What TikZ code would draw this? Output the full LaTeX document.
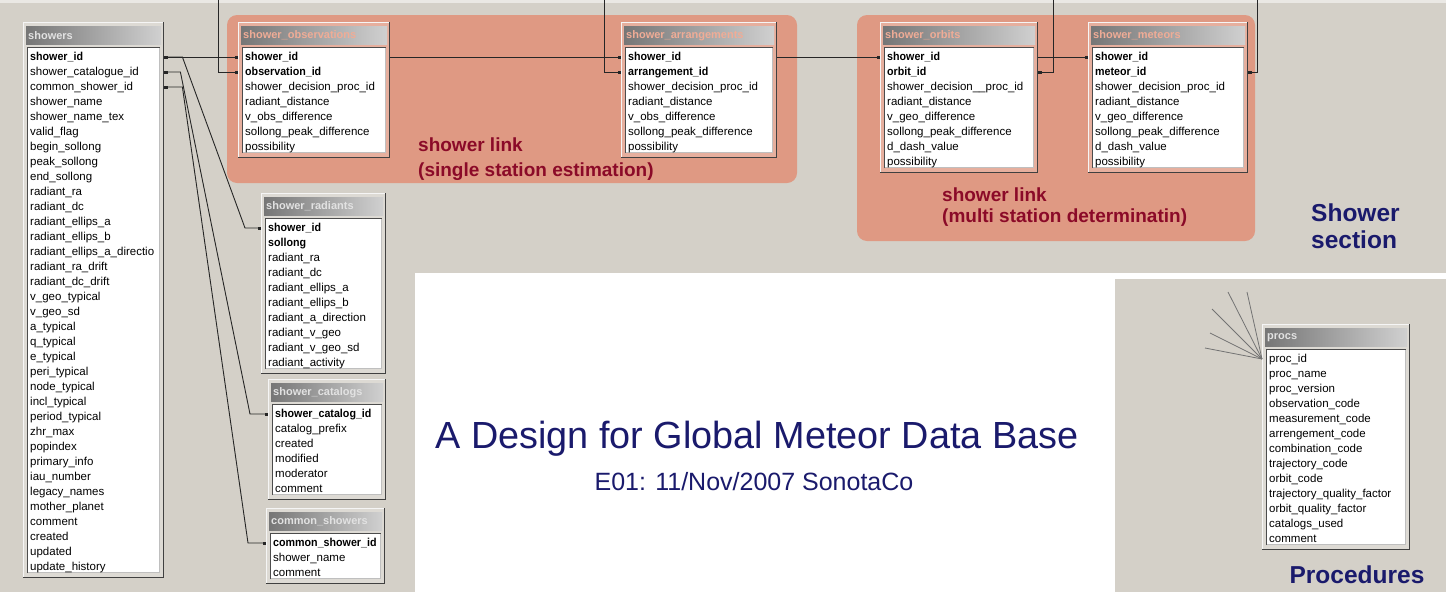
\documentclass[tikz,border=0pt]{standalone}
\usepackage{fontspec}
\usepackage{graphicx}
\setmainfont{Liberation Sans}
\usetikzlibrary{arrows.meta}

\definecolor{bg}{RGB}{212,208,200}
\definecolor{bgtop}{RGB}{234,232,228}
\definecolor{pinkzone}{RGB}{223,153,131}
\definecolor{linkred}{RGB}{139,10,40}
\definecolor{navy}{RGB}{26,26,108}
\definecolor{hdrdark}{RGB}{118,118,118}
\definecolor{hdrlight}{RGB}{208,208,208}
\definecolor{titlegray}{RGB}{226,226,226}
\definecolor{titlepink}{RGB}{240,172,150}

% key fields: bold, slightly condensed
\newcommand\kf[1]{\scalebox{0.93}[1]{\textbf{#1}}}

\tikzset{
  link/.style={draw=black!85, line width=0.9pt},
  sqend/.style={-{Square[length=3pt,width=3pt]}},
  sqboth/.style={{Square[length=3pt,width=3pt]}-{Square[length=3pt,width=3pt]}},
  fanline/.style={draw=black!55, line width=0.8pt},
  zone/.style={fill=pinkzone, rounded corners=10pt},
  rowtext/.style={inner xsep=7pt, inner ysep=0pt, text height=9pt, text depth=3pt,
    minimum height=15pt, align=left, font=\fontsize{11.5}{13}\selectfont,
    execute at begin node={\hyphenpenalty=10000\exhyphenpenalty=10000}},
  hdrtext/.style={inner sep=0pt, font=\bfseries\fontsize{11}{13}\selectfont},
  linklabel/.style={text=linkred, font=\bfseries\fontsize{19}{23}\selectfont, anchor=west, inner sep=0pt},
  seclabel/.style={text=navy, font=\bfseries\fontsize{24.5}{27}\selectfont, align=left, inner sep=0pt},
  titletext/.style={text=navy, font=\fontsize{37.8}{42}\selectfont, inner sep=0pt},
  subtitletext/.style={text=navy, font=\fontsize{25}{29}\selectfont, inner sep=0pt},
}

% table: #1 name, #2 left, #3 top, #4 right, #5 rows, #6 title, #7 title colour, #8 fields
\newcommand\dbtable[8]{%
  \pgfmathsetmacro\tabbot{#3+35+15*(#5-1)+11}%
  \pgfmathsetmacro\tabwid{#4-#2}%
  \pgfmathsetmacro\tabtxt{#4-#2-14}%
  \fill[white,fill opacity=0.22] (#2,#3) rectangle (#4,\tabbot);
  \draw[white!92!gray,line width=1pt] (#2+0.5,\tabbot) -- (#2+0.5,#3+0.5) -- (#4,#3+0.5);
  \draw[black!75,line width=1.2pt] (#2,\tabbot-0.6) -- (#4-0.6,\tabbot-0.6) -- (#4-0.6,#3);
  \shade[left color=hdrdark,right color=hdrlight] (#2+3,#3+4) rectangle (#4-3,#3+22);
  \begin{scope}
    \clip (#2+3,#3+4) rectangle (#4-3,#3+22);
    \node[hdrtext,text=#7,anchor=west] (#1-title) at (#2+5,#3+13.5) {#6};
  \end{scope}
  \fill[white] (#2+4,#3+25) rectangle (#4-4,\tabbot-5);
  \draw[black!70,line width=1pt] (#2+4.5,\tabbot-5) -- (#2+4.5,#3+25.5) -- (#4-4,#3+25.5);
  \draw[black!25,line width=0.8pt] (#2+4.5,\tabbot-5.4) -- (#4-4.4,\tabbot-5.4) -- (#4-4.4,#3+25.5);
  \foreach \fld [count=\rowno] in {#8}{%
    \node[rowtext,minimum width=\tabwid pt,text width=\tabtxt pt,anchor=west] (#1-\rowno) at (#2,#3+20+15*\rowno) {\fld};
  }%
}

\begin{document}
\begin{tikzpicture}[x=1pt,y=-1pt]
  \useasboundingbox (0,0) rectangle (1446,592);
  % backdrop
  \fill[bg] (0,0) rectangle (1446,592);
  \fill[bgtop] (0,0) rectangle (1446,3);
  \fill[white] (415,273) rectangle (1446,592);
  \fill[bg] (1115,279) rectangle (1446,592);

  % shower link zones
  \fill[zone] (227,15) rectangle (797,183);
  \fill[zone] (857,15) rectangle (1255,241);

  % tables
  \dbtable{showers}{23}{22}{164}{35}{showers}{titlegray}{%
    \kf{shower\_id},shower\_catalogue\_id,common\_shower\_id,shower\_name,shower\_name\_tex,%
    valid\_flag,begin\_sollong,peak\_sollong,end\_sollong,radiant\_ra,radiant\_dc,%
    radiant\_ellips\_a,radiant\_ellips\_b,radiant\_ellips\_a\_directio,radiant\_ra\_drift,%
    radiant\_dc\_drift,v\_geo\_typical,v\_geo\_sd,a\_typical,q\_typical,e\_typical,%
    peri\_typical,node\_typical,incl\_typical,period\_typical,zhr\_max,popindex,%
    primary\_info,iau\_number,legacy\_names,mother\_planet,comment,created,updated,%
    update\_history}
  \dbtable{obs}{238}{22}{390}{7}{shower\_observations}{titlepink}{%
    \kf{shower\_id},\kf{observation\_id},shower\_decision\_proc\_id,radiant\_distance,%
    v\_obs\_difference,sollong\_peak\_difference,possibility}
  \dbtable{arr}{621}{22}{777}{7}{shower\_arrangements}{titlepink}{%
    \kf{shower\_id},\kf{arrangement\_id},shower\_decision\_proc\_id,radiant\_distance,%
    v\_obs\_difference,sollong\_peak\_difference,possibility}
  \dbtable{orb}{880}{22}{1038}{8}{shower\_orbits}{titlepink}{%
    \kf{shower\_id},\kf{orbit\_id},shower\_decision\_\_proc\_id,radiant\_distance,%
    v\_geo\_difference,sollong\_peak\_difference,d\_dash\_value,possibility}
  \dbtable{met}{1088}{22}{1248}{8}{shower\_meteors}{titlepink}{%
    \kf{shower\_id},\kf{meteor\_id},shower\_decision\_proc\_id,radiant\_distance,%
    v\_geo\_difference,sollong\_peak\_difference,d\_dash\_value,possibility}
  \dbtable{rad}{261}{193}{386}{10}{shower\_radiants}{titlegray}{%
    \kf{shower\_id},\kf{sollong},radiant\_ra,radiant\_dc,radiant\_ellips\_a,%
    radiant\_ellips\_b,radiant\_a\_direction,radiant\_v\_geo,radiant\_v\_geo\_sd,%
    radiant\_activity}
  \dbtable{cat}{268}{379}{386}{6}{shower\_catalogs}{titlegray}{%
    \kf{shower\_catalog\_id},catalog\_prefix,created,modified,moderator,comment}
  \dbtable{com}{266}{508}{385}{3}{common\_showers}{titlegray}{%
    \kf{common\_shower\_id},shower\_name,comment}
  \dbtable{procs}{1262}{324}{1410}{13}{procs}{titlegray}{%
    proc\_id,proc\_name,proc\_version,observation\_code,measurement\_code,%
    arrengement\_code,combination\_code,trajectory\_code,orbit\_code,%
    trajectory\_quality\_factor,orbit\_quality\_factor,catalogs\_used,comment}

  % relationships
  \coordinate (drop-obs) at (218,0);
  \coordinate (drop-arr) at (604,0);
  \coordinate (drop-orb) at (1053,0);
  \coordinate (drop-met) at (1257,0);
  \draw[link,sqboth] (showers-1.east) -- (obs-1.west);
  \draw[link,sqend] (obs-1.east) -- (arr-1.west);
  \draw[link,sqend] (arr-1.east) -- (orb-1.west);
  \draw[link,sqend] (orb-1.east) -- (met-1.west);
  \draw[link,sqend] (drop-obs) |- (obs-2.west);
  \draw[link,sqend] (drop-arr) |- (arr-2.west);
  \draw[link,sqend] (drop-orb) |- (orb-2.east);
  \draw[link,sqend] (drop-met) |- (met-2.east);
  \draw[link,sqboth] (showers-1.east) -- ++(18,0) -- ([xshift=-16pt]rad-1.west) -- (rad-1.west);
  \draw[link,sqboth] (showers-2.east) -- ++(16,0) -- ([xshift=-18pt]cat-1.west) -- (cat-1.west);
  \draw[link,sqboth] (showers-3.east) -- ++(18,0) -- ([xshift=-18pt]com-1.west) -- (com-1.west);

  % procedure references
  \coordinate (fan-1) at (1205,348);
  \coordinate (fan-2) at (1210,333);
  \coordinate (fan-3) at (1212,309);
  \coordinate (fan-4) at (1228,292);
  \coordinate (fan-5) at (1247,292);
  \foreach \k in {1,...,5}{\draw[fanline] (fan-\k) -- (procs-1.west);}

  % labels
  \node[linklabel] (link-single-a) at (418,145) {shower link};
  \node[linklabel] (link-single-b) at (418,172) {(single station estimation)};
  \node[linklabel] (link-multi-a) at (942,195) {shower link};
  \node[linklabel] (link-multi-b) at (942,218) {(multi station determinatin)};
  \node[seclabel,anchor=west] (sec-shower) at (1311,226) {Shower\\section};
  \node[seclabel] (sec-proc) at (1357,575) {Procedures};
  \node[titletext] (title) at (757,439) {A Design for Global Meteor Data Base};
  \node[subtitletext] (subtitle) at (754,482) {E01: 11/Nov/2007 SonotaCo};
\end{tikzpicture}
\end{document}
